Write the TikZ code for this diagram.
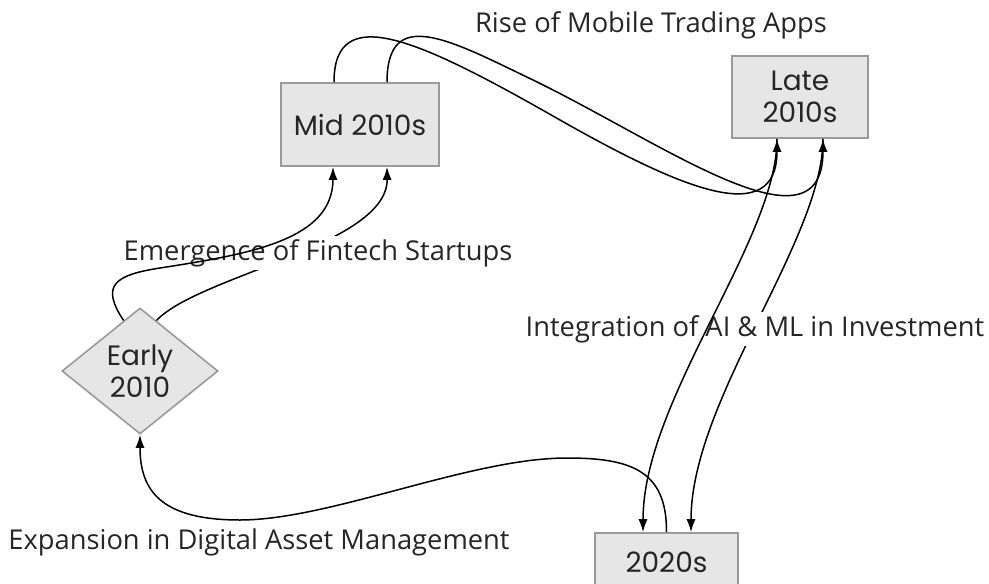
\documentclass[tikz,border=0pt]{standalone}
\usepackage{fontspec}
\newfontfamily\erafont{Poppins}
\newfontfamily\trendfont{Open Sans}
\usepackage{tikz}
\usetikzlibrary{shapes.geometric,arrows.meta}
\usepackage{xcolor}
\definecolor{boxfill}{HTML}{E6E6E6}
\definecolor{boxline}{HTML}{9A9A9A}
\definecolor{ink}{HTML}{262626}

\begin{document}
\begin{tikzpicture}[x=1pt, y=-1pt,
  era/.style={draw=boxline, line width=1.6pt, fill=boxfill, inner sep=0pt,
    align=center, text=ink, font=\erafont\fontsize{28}{32}\selectfont},
  start/.style={era, diamond, minimum width=156pt, minimum height=126pt},
  trend/.style={fill=white, inner sep=3pt, text=ink,
    font=\trendfont\fontsize{27.3}{31}\selectfont},
  flow/.style={line width=1.5pt, -{Latex[length=13pt,width=9pt]}}]

\useasboundingbox (0,0) rectangle (989,584);

% --- periods ---
\node[start] (early) at (140,371) {Early\\2010};
\node[era, minimum width=158pt, minimum height=83pt] (mid) at (360,124.5) {Mid 2010s};
\node[era, minimum width=136pt, minimum height=82pt] (late) at (800,97) {Late\\2010s};
\node[era, minimum width=143pt, minimum height=58pt] (now) at (666.5,562) {2020s};

% --- early -> mid ---
\draw[flow] (early.72) .. controls (200,275) and (388,245) .. ([xshift=27pt]mid.south);
\node[trend] (fintech) at (318,253) {Emergence of Fintech Startups};
\draw[flow] (early.108) .. controls (100,285) and (115,275) .. (160,268)
  .. controls (250,254) and (333,240) .. ([xshift=-27pt]mid.south);

% --- mid -> late ---
\draw[flow] ([xshift=-26pt]mid.north) .. controls (334,0) and (420,40) .. (560,120)
  .. controls (680,188) and (777,230) .. ([xshift=-23pt]late.south);
\draw[flow] ([xshift=27pt]mid.north) .. controls (387,5) and (450,40) .. (533,80)
  .. controls (663,143) and (823,260) .. ([xshift=23pt]late.south);
\node[trend] (mobile) at (651,25) {Rise of Mobile Trading Apps};

% --- late -> 2020s ---
\draw[flow] ([xshift=23pt]late.south) .. controls (823,240) and (691,400) .. ([xshift=24.5pt]now.north);
\node[trend] (ai) at (755,329) {Integration of AI \& ML in Investment};
\draw[flow] ([xshift=-23pt]late.south) .. controls (777,240) and (643,400) .. ([xshift=-23.5pt]now.north);

% --- 2020s -> early ---
\draw[flow] (now.north) .. controls (667,470) and (630,458) .. (567,458)
  .. controls (470,458) and (330,520) .. (240,520)
  .. controls (160,520) and (140,490) .. (early.south);
\node[trend] (digital) at (259,542) {Expansion in Digital Asset Management};

\end{tikzpicture}
\end{document}
